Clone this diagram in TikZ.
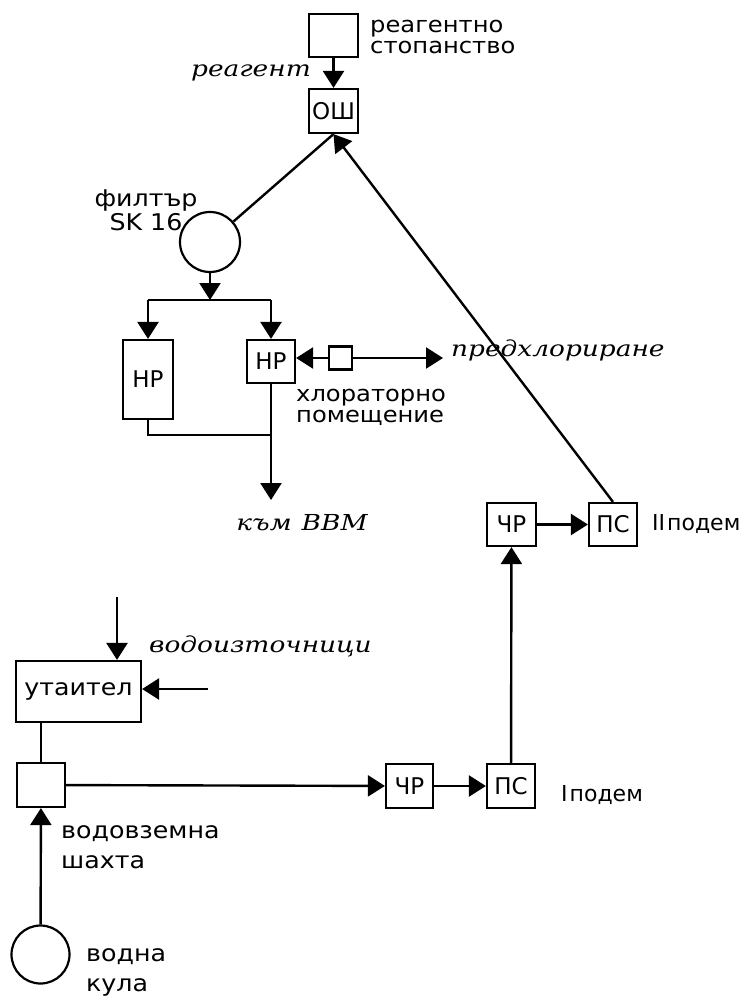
\documentclass[tikz,border=0pt]{standalone}
\usepackage{fontspec}
\usetikzlibrary{arrows.meta}
\newfontfamily\labfont[FakeStretch=1.1]{DejaVu Sans}
\newfontfamily\boxfont{DejaVu Sans}
\newfontfamily\itfont[FakeStretch=1.2]{DejaVu Serif}
\begin{document}
\begin{tikzpicture}[x=1pt,y=-1pt,
  line width=2.4pt,
  >={Triangle[length=17pt,width=21pt]},
  unit/.style={draw, rectangle, line width=2.2pt, inner sep=0pt,
    font=\boxfont\fontsize{23}{23}\selectfont},
  tank/.style={draw, circle, line width=2.2pt, inner sep=0pt},
  lab/.style={inner sep=0pt, align=left, font=\labfont\fontsize{23}{#1}\selectfont},
  lab/.default=19,
  tightlab/.style={inner sep=0pt, align=left, font=\labfont\fontsize{22}{21}\selectfont},
  flow/.style={inner sep=0pt, font=\itfont\itshape\fontsize{22}{22}\selectfont}]
\useasboundingbox (0,0) rectangle (741,999);

% treatment units
\node[unit, minimum width=49pt, minimum height=43pt] (reag) at (333.5,35.5) {};
\node[unit, minimum width=49pt, minimum height=44pt] (osh) at (333.5,111) {ОШ};
\node[tank, minimum size=60pt] (filter) at (210,242) {};
\node[unit, minimum width=50pt, minimum height=79pt] (nr1) at (148,379.5) {НР};
\node[unit, minimum width=48pt, minimum height=43pt] (nr2) at (271,361.5) {НР};
\node[unit, minimum width=23pt, minimum height=23pt] (cl) at (340.5,358) {};
\node[unit, minimum width=49pt, minimum height=43pt] (chr2) at (511.5,524.5) {ЧР};
\node[unit, minimum width=48pt, minimum height=43pt] (ps2) at (613,524.5) {ПС};
\node[unit, minimum width=47pt, minimum height=44pt] (chr1) at (409.5,786) {ЧР};
\node[unit, minimum width=48pt, minimum height=44pt] (ps1) at (511,786) {ПС};
\node[unit, minimum width=125pt, minimum height=61pt, font=\labfont\fontsize{23}{23}\selectfont] (ut) at (78.5,691.5) {утаител};
\node[unit, minimum width=48pt, minimum height=44pt] (sh) at (41,785) {};
\node[tank, minimum size=58pt] (kula) at (40.5,954.5) {};

% labels
\node[tightlab, anchor=west] (reaglab) at (369,37) {реагентно\\стопанство};
\node[flow, anchor=east] (reagflow) at (312,73) {реагент};
\node[lab=24, align=center] (filterlab) at (146,210) {филтър\\SK\hspace{8pt}16};
\node[tightlab, anchor=west] (cllab) at (295,407) {хлораторно\\помещение};
\node[flow, anchor=west] (prelab) at (450,350) {предхлориране};
\node[flow] (vvmlab) at (302,523) {към\hspace{10pt}ВВМ};
\node[lab, anchor=west, font=\boxfont\fontsize{22}{22}\selectfont] (p2lab) at (651,524) {II\hspace{2pt}подем};
\node[lab, anchor=west, font=\boxfont\fontsize{22}{22}\selectfont] (p1lab) at (560,795) {I\hspace{2pt}подем};
\node[flow, anchor=west] (srclab) at (148,646) {водоизточници};
\node[lab=30, anchor=west] (shlab) at (60,847) {водовземна\\шахта};
\node[lab=30, anchor=west] (kulalab) at (85,972) {водна\\кула};

% junction points
\coordinate (fsplit) at (210,300);
\coordinate (jl) at (148,300);
\coordinate (jr) at (271,300);
\coordinate (jm) at (148,435);
\coordinate (jn) at (271,435);
\coordinate (vvm) at (271,500);
\coordinate (pre) at (443,358);
\coordinate (src1) at (117,597);
\coordinate (src2) at (208,689);

% reagent dosing
\draw[->] (reag) -- (osh);
\draw (osh.south) -- (filter);
\draw[->] (ps2.north) -- (osh.south);

% filter to reservoirs
\draw[->] (filter) -- (fsplit);
\draw (jl) -- (jr);
\draw[->] (jl) -- (nr1);
\draw[->] (jr) -- (nr2);

% chlorination
\draw[->] (cl) -- (nr2.east |- cl);
\draw[->] (cl) -- (pre);

% outflow
\draw (nr1) -- (jm) -- (jn);
\draw[->] (nr2) -- (vvm);

% raw water line
\draw[->] (src1) -- (src1 |- ut.north);
\draw[->] (src2) -- (src2 -| ut.east);
\draw (sh) -- (sh.north |- ut.south);
\draw[->] (kula) -- (sh);
\draw[->] (sh) -- (chr1);
\draw[->] (chr1) -- (ps1);
\draw[->] (ps1) -- (chr2);
\draw[->] (chr2) -- (ps2);
\end{tikzpicture}
\end{document}
